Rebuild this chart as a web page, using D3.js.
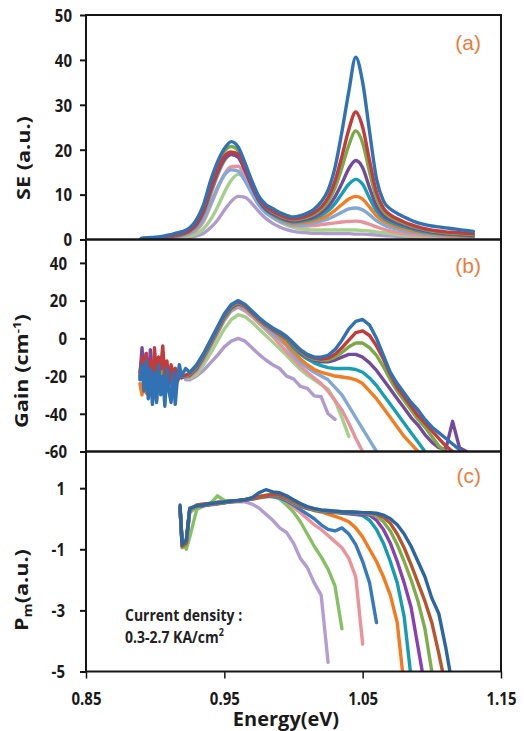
<!DOCTYPE html>
<html><head><meta charset="utf-8">
<script src="https://cdn.jsdelivr.net/npm/d3@7"></script>
<style>body{margin:0;background:#fff}svg{display:block}</style>
</head><body>
<svg id="chart" width="524" height="731"></svg>
<script>
// ---------------- DATA ----------------
const xTicks = [0.85, 0.95, 1.05, 1.15];
const seTicks = [0, 10, 20, 30, 40, 50];
const gainTicks = [-60, -40, -20, 0, 20, 40];
const pmTicks = [-5, -3, -1, 1];
const panelLabels = ["(a)", "(b)", "(c)"];
const noteLines = ["Current density :", "0.3-2.7 KA/cm"];

// series order: 0.3 ... 2.7 KA/cm2 (lowest current first)
const seriesNames = ["lpurple","lgreen","pink","lblue","orange","teal","purple","green","red","blue"];
const colorsAB = ["#b09bcf","#a5d08c","#e8929b","#80a8d9","#f47d22","#17a0b3","#744a9c","#79aa45","#c33c3c","#3072b4"];
const colorsC  = ["#b39ed3","#86c064","#ec929a","#3679bf","#f57a1f","#159cb0","#8a40b2","#7cae4c","#b8552f","#2b66a3"];

// (a) spontaneous emission
const seEnergy = [0.890,0.895,0.900,0.905,0.910,0.915,0.920,0.925,0.930,0.935,0.940,0.945,0.950,0.955,0.960,0.965,0.970,0.975,0.980,0.985,0.990,0.995,1.000,1.005,1.010,1.015,1.020,1.025,1.030,1.035,1.040,1.045,1.050,1.055,1.060,1.065,1.070,1.075,1.080,1.085,1.090,1.095,1.100,1.105,1.110,1.115,1.120,1.125,1.130];
const seBlue   = [0.3,0.4,0.5,0.7,1.0,1.4,1.8,2.6,4.5,7.8, 13,17.2,20.2,21.8,20.6,17,13,9.6,7.8,6.9, 6.0,5.4,5.0,5.3,5.9,6.8,8.4,11,16,24, 33,40.6,35,24,13.5,8.6,6.8,5.8,5.0,4.3, 3.7,3.3,3.0,2.8,2.6,2.4,2.2,2.0,1.8];
const seRed    = [0.2,0.3,0.4,0.5,0.8,1.1,1.5,2.2,3.8,6.8, 11.5,15.5,18.5,19.5,19,16,12.4,9.2,7.3,6.3, 5.5,4.9,4.6,4.8,5.3,6.0,7.2,9.3,13,18.5, 24.5,28.4,25,17.5,10.5,7,5.5,4.6,3.9,3.3, 2.8,2.4,2.1,1.9,1.7,1.6,1.5,1.4,1.3];
const seGreen  = [0.2,0.3,0.4,0.5,0.8,1.1,1.5,2.3,4.0,7.2, 12.3,16.5,19.6,20.7,19.8,16.4,12.6,9.2,7.2,6.1, 5.3,4.7,4.4,4.6,5.0,5.6,6.7,8.4,11.5,16, 21,24.2,21.5,15,9.2,6.3,5.0,4.2,3.6,3.0, 2.6,2.2,1.9,1.7,1.5,1.4,1.3,1.2,1.1];
const sePurple = [0.2,0.2,0.3,0.4,0.6,0.9,1.3,2.0,3.5,6.4, 11,15,18,19,18.3,15.3,11.8,8.7,6.8,5.8, 5.0,4.4,4.1,4.3,4.6,5.1,6.0,7.3,9.5,12.5, 15.8,17.6,16,11.5,7.5,5.4,4.4,3.7,3.2,2.7, 2.3,2.0,1.7,1.5,1.3,1.2,1.1,1.0,0.9];
const seTeal   = [0.2,0.2,0.3,0.4,0.6,0.8,1.2,1.9,3.3,6.1, 10.6,14.7,17.8,19,18.4,15.4,11.8,8.6,6.6,5.6, 4.8,4.2,3.9,4.0,4.3,4.7,5.4,6.4,8.0,10.2, 12.3,13.4,12.3,9.2,6.4,4.8,3.9,3.3,2.8,2.4, 2.0,1.7,1.5,1.3,1.2,1.1,1.0,0.9,0.8];
const seOrange = [0.1,0.2,0.3,0.3,0.5,0.7,1.1,1.7,3.0,5.7, 10,14.2,17.5,18.9,18.6,15.6,12,8.7,6.6,5.5, 4.6,4.0,3.6,3.7,3.9,4.2,4.7,5.4,6.5,7.8, 9.0,9.6,9.0,7.2,5.3,4.1,3.4,2.8,2.4,2.0, 1.7,1.5,1.3,1.1,1.0,0.9,0.8,0.7,0.7];
const seLBlue  = [0.1,0.1,0.2,0.3,0.4,0.6,0.9,1.4,2.4,4.5, 8.0,11.5,14.3,15.5,15.2,13,10.2,7.6,5.9,4.9, 4.1,3.6,3.2,3.2,3.4,3.7,4.1,4.6,5.3,6.1, 6.8,7.0,6.6,5.5,4.2,3.3,2.7,2.3,1.9,1.6, 1.4,1.2,1.0,0.9,0.8,0.7,0.7,0.6,0.6];
const sePink   = [0.1,0.1,0.2,0.2,0.3,0.5,0.8,1.2,2.1,4.0, 7.5,11.2,14.5,16.2,16.3,14,11,8.2,6.2,5.0, 4.1,3.5,3.1,3.0,3.0,3.1,3.3,3.5,3.7,3.9, 4.0,4.1,3.9,3.4,2.8,2.3,1.9,1.6,1.3,1.1, 1.0,0.9,0.8,0.7,0.6,0.6,0.5,0.5,0.5];
const seLGreen = [0.1,0.1,0.1,0.2,0.2,0.3,0.5,0.8,1.3,2.4, 4.4,7.2,10.5,13.2,14.5,13.6,11.3,8.6,6.4,4.9, 3.9,3.2,2.7,2.4,2.2,2.1,2.1,2.1,2.1,2.1, 2.1,2.1,2.0,1.9,1.7,1.5,1.3,1.1,0.9,0.8, 0.7,0.6,0.5,0.5,0.4,0.4,0.3,0.3,0.3];
const seLPurple= [0.1,0.1,0.1,0.1,0.2,0.2,0.3,0.5,0.8,1.4, 2.6,4.3,6.5,8.5,9.6,9.4,8.0,6.2,4.7,3.6, 2.8,2.2,1.8,1.6,1.5,1.4,1.4,1.3,1.3,1.3, 1.3,1.2,1.2,1.1,1.0,0.9,0.8,0.7,0.6,0.5, 0.4,0.4,0.3,0.3,0.3,0.2,0.2,0.2,0.2];

// (b) gain
const gainEnergy = [0.8890,0.8905,0.8920,0.8935,0.8950,0.8965,0.8980,0.8995,0.9010,0.9025,0.9040,0.9055,0.9070,0.9085,0.9100,0.9115,0.9130,0.9145,0.9160,0.9175,0.9190,0.922,
  0.925,0.930,0.935,0.940,0.945,0.950,0.955,0.960,0.965,0.970,0.975,0.980,0.985,0.990,0.995,1.000,1.005,1.010,1.015,1.020,1.025,1.030,1.035,1.040,1.045,1.050,1.055,1.060,1.065,1.070,1.075,1.080,1.085,1.090,1.095,1.100,1.105,1.110,1.115,1.120,1.125];
const N = null;
const NN = [N,N,N,N,N,N,N,N,N,N,N,N,N,N,N,N,N,N,N,N,N];
const gBlue   = [-22,-14,-28,-12,-32,-16,-35,-18,-34,-14,-30,-20,-36,-16,-28,-34,-18,-35,-22,-14,-20,-16,
  -18,-14,-8,-1,6,13,18,20,18,14.5, 11,8,5.5,3.5,1,-2.5,-6,-8.5,-10,-10, -9,-6,-1,5,9,10,7,0,-9,-18, -24,-29,-34,-38,-43,-47,-50,-53,-56,-59, N];
const gRed    = [-18,-10,-22,-8,-24,-12,-26,-5,-20,-10,-16,-4,-22,-12,-24,-14,-20,-16,-22,-18,-20,-19.5,
  -18.5,-14.5,-8.5,-1.5,5.5,12.5,17.5,19.5,17.5,14, 10.5,7.5,5,3,0.5,-3,-6.5,-9,-10.5,-11, -10.5,-8.5,-5,-1,3,4,1.5,-4,-11,-19, -26,-31,-36,-41,-45,-49,-53,-57,-60,N, N];
const gGreen  = [-21,-17,-25,-15,-23,-18,-26,-16,-22,-19,-24,-17,-22,-20,-23,-19,-22,-20,-21,-20,-20,-20,
  -19,-15,-9,-2,5,12,17,19,17.3,13.8, 10.2,7.2,4.8,2.8,0.2,-3.3,-7,-9.5,-11,-11.5, -11.5,-10,-7.5,-4.5,-2.5,-2.5,-5,-9,-15,-22, -28,-33,-38,-43,-47,-52,-57,-60,N,N, N];
const gPurple = [-20,-5,-26,-8,-30,-6,-28,-12,-33,-10,-24,-15,-30,-14,-25,-18,-26,-16,-23,-20,-21,-20,
  -19.5,-15.5,-9.5,-2.5,4.5,11.5,16.5,18.5,17,13.5, 10,7,4.5,2.5,0,-3.5,-7.5,-10,-11.5,-12.5, -12.5,-11.5,-10,-8.5,-8.5,-10,-13,-17,-22,-27, -32,-37,-42,-46,-51,-55,-58,-59,-44,-58, -60];
const gTeal   = [-20,-18,-24,-16,-26,-17,-23,-15,-25,-18,-23,-17,-24,-19,-22,-18,-22,-20,-21,-20,-20,-20,
  -19.5,-16,-10,-3,4,11,16,18.5,17,13.5, 10,7,4.3,2,-0.5,-5,-8.5,-11,-13,-14.5, -15.5,-16,-16,-16,-16.5,-18,-21,-25,-30,-35, -40,-45,-50,-55,-60,N,N,N,N,N, N];
const gOrange = [-24,-30,-20,-29,-17,-27,-22,-26,-19,-25,-21,-24,-20,-23,-21,-22,-20,-22,-21,-21,-20,-20,
  -20,-16.5,-10.5,-3.5,3.5,10.5,15.5,18,16.5,13, 9.5,6.5,4,1,-3,-7,-11,-14,-16.5,-18, -19,-20,-20.5,-21,-22,-24,-28,-32,-37,-42, -47,-52,-56,-60,N,N,N,N,N,N, N];
const gLBlue  = NN.concat([-21,
  -20,-17,-11,-4,3,10,15,17,15.5,12.5, 9,5.5,2.5,-0.5,-4,-9,-13,-15.5,-18,-20, -22,-26,-30,-36,-42,-48,-54,-60,N,N, N,N,N,N,N,N,N,N,N,N, N]);
const gPink   = NN.concat([-21,
  -20.5,-17.5,-11.5,-4.5,2.5,9.5,14.5,16.5,14.5,11.5, 8,4.5,1,-3,-7,-11,-15,-18,-21,-24, -28,-33,-38,-45,-53,-60,N,N,N,N, N,N,N,N,N,N,N,N,N,N, N]);
const gLGreen = NN.concat([-21,
  -21,-19,-14,-8,-1.5,5,10,12.5,11.5,8.5, 5,1.5,-2,-5.5,-9,-13,-16.5,-19.5,-22,-24.5, -27,-33,-42,-52,N,N,N,N,N,N, N,N,N,N,N,N,N,N,N,N, N]);
const gLPurple= NN.concat([-22,
  -22,-20,-17,-13,-9,-4.5,-1.5,0,-1.5,-5, -8.5,-11.5,-14,-16,-20,-21.5,-25.5,-26.5,-30.5,-31, -40,-43,N,N,N,N,N,N,N,N, N,N,N,N,N,N,N,N,N,N, N]);

// (c) Pm
const pmEnergy = [0.918,0.9195,0.9225,0.925,0.930,0.935,0.940,0.945,0.950,0.955,0.960,0.965,0.970,0.975,0.980,0.985,0.990,0.995,1.000,1.005,1.010,1.015,1.020,1.025,1.030,1.035,1.040,1.045,1.050,1.055,1.060,1.065,1.070,1.075,1.080,1.085,1.090,1.095,1.100,1.105,1.110,1.115];
const pBlue   = [0.45,-0.85,-0.7,0.35, 0.42,0.45,0.5,0.52,0.55,0.58,0.6,0.62,0.68,0.85, 0.95,0.88,0.85,0.75,0.62,0.5,0.4,0.33,0.29,0.27, 0.25,0.23,0.22,0.21,0.2,0.2,0.18,0.12,0.0,-0.2, -0.5,-0.9,-1.4,-1.9,-2.6,-3.1,-4.2,-5.5];
const pRed    = [0.4,-0.9,-0.8,0.3, 0.45,0.48,0.5,0.53,0.55,0.58,0.6,0.63,0.68,0.72, 0.76,0.8,0.78,0.7,0.58,0.47,0.38,0.32,0.28,0.26, 0.25,0.23,0.22,0.21,0.2,0.19,0.15,0.05,-0.15,-0.5, -0.95,-1.5,-2.1,-2.7,-3.4,-4.4,-5.5,N];
const pGreen  = [0.35,-0.95,-0.85,0.25, 0.4,0.44,0.48,0.5,0.54,0.57,0.59,0.62,0.67,0.72, 0.76,0.79,0.77,0.68,0.56,0.45,0.36,0.3,0.26,0.24, 0.23,0.21,0.2,0.19,0.18,0.16,0.1,-0.1,-0.4,-0.85, -1.4,-2.0,-2.7,-3.6,-5.0,-5.5,N,N];
const pPurple = [0.3,-0.9,-0.8,0.3, 0.4,0.43,0.47,0.5,0.53,0.56,0.58,0.61,0.65,0.7, 0.74,0.77,0.75,0.66,0.54,0.43,0.35,0.29,0.25,0.23, 0.22,0.2,0.18,0.16,0.14,0.12,-0.05,-0.35,-0.8,-1.4, -2.1,-2.9,-4.2,-5.5,N,N,N,N];
const pTeal   = [0.35,-0.8,-0.75,0.3, 0.4,0.43,0.47,0.5,0.53,0.56,0.58,0.61,0.65,0.7, 0.73,0.76,0.74,0.65,0.53,0.42,0.34,0.28,0.24,0.22, 0.2,0.18,0.16,0.14,0.1,-0.05,-0.35,-0.8,-1.4,-2.1, -3.2,-5.2,N,N,N,N,N,N];
const pOrange = [0.35,-0.85,-0.7,0.3, 0.4,0.43,0.46,0.49,0.52,0.55,0.57,0.6,0.64,0.68, 0.72,0.74,0.72,0.63,0.5,0.4,0.33,0.27,0.22,0.15, 0.08,0.0,-0.1,-0.3,-0.6,-1.0,-1.4,-1.9,-2.5,-3.4, -5.5,N,N,N,N,N,N,N];
const pLBlue  = [0.35,-0.85,-0.75,0.3, 0.4,0.44,0.47,0.5,0.53,0.56,0.58,0.61,0.65,0.72, 0.74,0.72,0.68,0.58,0.45,0.3,0.15,0.0,-0.2,-0.35, -0.4,-0.3,-0.5,-0.85,-1.4,-2.1,-3.4,N,N,N, N,N,N,N,N,N,N,N];
const pPink   = [0.3,-0.8,-0.7,0.3, 0.38,0.42,0.45,0.48,0.52,0.55,0.58,0.6,0.64,0.68, 0.72,0.75,0.7,0.55,0.38,0.2,0.0,-0.2,-0.35,-0.55, -0.75,-0.95,-1.3,-1.9,-4.1,N,N,N,N,N, N,N,N,N,N,N,N,N];
const pLGreen = [0.3,-0.7,-1.0,-0.6, 0.3,0.42,0.5,0.75,0.6,0.58,0.6,0.63,0.68,0.72, 0.76,0.75,0.65,0.45,0.22,-0.1,-0.5,-0.9,-1.25,-1.65, -2.2,-3.6,N,N,N,N,N,N,N,N, N,N,N,N,N,N,N,N];
const pLPurple= [0.3,-0.7,-0.8,0.2, 0.38,0.45,0.52,0.55,0.6,0.55,0.55,0.55,0.48,0.35, 0.15,-0.05,-0.3,-0.45,-0.8,-1.3,-1.6,-2.1,-2.5,-4.7, N,N,N,N,N,N,N,N,N,N, N,N,N,N,N,N,N,N];

const seSeries   = [seLPurple, seLGreen, sePink, seLBlue, seOrange, seTeal, sePurple, seGreen, seRed, seBlue];
const gainSeries = [gLPurple, gLGreen, gPink, gLBlue, gOrange, gTeal, gPurple, gGreen, gRed, gBlue];
const pmSeries   = [pLPurple, pLGreen, pPink, pLBlue, pOrange, pTeal, pPurple, pGreen, pRed, pBlue];

// ---------------- DRAW ----------------
const svg = d3.select("#chart");
const FONT = "'Open Sans', 'DejaVu Sans', sans-serif";
const L = 86, R = 501, T = 15, B1 = 239.5, B2 = 451.5, B3 = 671.5;

const x  = d3.scaleLinear().domain([0.85, 1.15]).range([L, R]);
const yA = d3.scaleLinear().domain([0, 50]).range([B1, T]);
const yB = d3.scaleLinear().domain([-60, 52.4]).range([B2, B1]);
const yC = d3.scaleLinear().domain([-5, 2.2]).range([B3, B2]);

const defs = svg.append("defs");
[["clipA", T, B1], ["clipB", B1, B2], ["clipC", B2, B3]].forEach(([id, a, b]) => {
  defs.append("clipPath").attr("id", id).append("rect")
    .attr("x", L).attr("y", a).attr("width", R - L).attr("height", b - a);
});

function drawPanel(energy, series, colors, y, clipId, curve) {
  const g = svg.append("g").attr("clip-path", `url(#${clipId})`);
  const line = d3.line().defined(d => d[1] != null)
    .x(d => x(d[0])).y(d => y(d[1])).curve(curve);
  series.forEach((vals, i) => {
    g.append("path")
      .datum(energy.map((e, j) => [e, vals[j]]))
      .attr("d", line)
      .attr("fill", "none")
      .attr("stroke", colors[i])
      .attr("stroke-width", 3.4)
      .attr("stroke-linejoin", "round")
      .attr("stroke-linecap", "round");
  });
}
drawPanel(seEnergy, seSeries, colorsAB, yA, "clipA", d3.curveMonotoneX);
drawPanel(gainEnergy, gainSeries, colorsAB, yB, "clipB", d3.curveLinear);
drawPanel(pmEnergy, pmSeries, colorsC, yC, "clipC", d3.curveLinear);

// frame
svg.append("rect").attr("x", L).attr("y", T).attr("width", R - L).attr("height", B3 - T)
  .attr("fill", "none").attr("stroke", "#161616").attr("stroke-width", 2);
[B1, B2].forEach(yy => svg.append("line").attr("x1", L).attr("x2", R).attr("y1", yy).attr("y2", yy)
  .attr("stroke", "#161616").attr("stroke-width", 2.6));

const STRETCH = 1.2;
function yAxis(scale, ticks, pad) {
  const g = svg.append("g").attr("transform", `translate(${L},0)`)
    .call(d3.axisLeft(scale).tickValues(ticks).tickSize(6).tickPadding(pad).tickFormat(d => String(d)));
  g.select(".domain").remove();
  g.attr("font-family", FONT).attr("font-size", 15).attr("font-weight", "bold").attr("color", "#1a1a1a");
  g.selectAll(".tick line").attr("stroke", "#161616").attr("stroke-width", 2);
  g.selectAll(".tick text").attr("dy", null).attr("y", 0)
    .attr("transform", `translate(0,6.3) scale(1,${STRETCH})`);
}
yAxis(yA, seTicks, 8);
yAxis(yB, gainTicks, 13);
yAxis(yC, pmTicks, 15);

const gx = svg.append("g").attr("transform", `translate(0,${B3})`)
  .call(d3.axisBottom(x).tickValues(xTicks).tickSize(7).tickFormat(d3.format(".2f")));
gx.select(".domain").remove();
gx.attr("font-family", FONT).attr("font-size", 15).attr("font-weight", "bold").attr("color", "#1a1a1a");
gx.selectAll(".tick line").attr("stroke", "#161616").attr("stroke-width", 1.5);
gx.selectAll(".tick text").attr("dy", null).attr("y", 0)
  .attr("transform", `translate(0,33) scale(1,${STRETCH})`);

// axis titles
function vTitle(cx, cy) {
  return svg.append("text")
    .attr("transform", `translate(${cx},${cy}) scale(1,${STRETCH}) rotate(-90)`)
    .attr("text-anchor", "middle").attr("dy", "0.35em")
    .attr("font-family", FONT).attr("font-size", 18).attr("font-weight", "bold").attr("fill", "#1a1a1a");
}
vTitle(24, 158).text("SE (a.u.)");
const tg = vTitle(22, 371);
tg.append("tspan").text("Gain (cm");
tg.append("tspan").attr("font-size", 11).attr("dy", -7).text("-1");
tg.append("tspan").attr("dy", 7).text(")");
const tp = vTitle(22, 590);
tp.append("tspan").text("P");
tp.append("tspan").attr("font-size", 12).attr("dy", 4).text("m");
tp.append("tspan").attr("dy", -4).text("(a.u.)");

svg.append("text").attr("x", 286).attr("y", 726).attr("text-anchor", "middle")
  .attr("font-family", FONT).attr("font-size", 20).attr("font-weight", "bold").attr("fill", "#1a1a1a")
  .text("Energy(eV)");

// panel labels
[[50, 0], [273, 1], [483, 2]].forEach(([yy, i]) => {
  svg.append("text").attr("transform", `translate(481,${yy})`)
    .attr("text-anchor", "end").attr("font-family", "'Liberation Sans', Arial, sans-serif")
    .attr("font-size", 21).attr("fill", "#f07a3a").text(panelLabels[i]);
});

// note
svg.append("text").attr("transform", `translate(125,621) scale(1,1.15)`)
  .attr("font-family", FONT).attr("font-size", 14).attr("font-weight", "bold").attr("fill", "#222")
  .text(noteLines[0]);
const n2 = svg.append("text").attr("transform", `translate(125,643) scale(1,1.15)`)
  .attr("font-family", FONT).attr("font-size", 14).attr("font-weight", "bold").attr("fill", "#222");
n2.append("tspan").text(noteLines[1]);
n2.append("tspan").attr("font-size", 9).attr("dy", -6).text("2");
</script>
</body></html>
